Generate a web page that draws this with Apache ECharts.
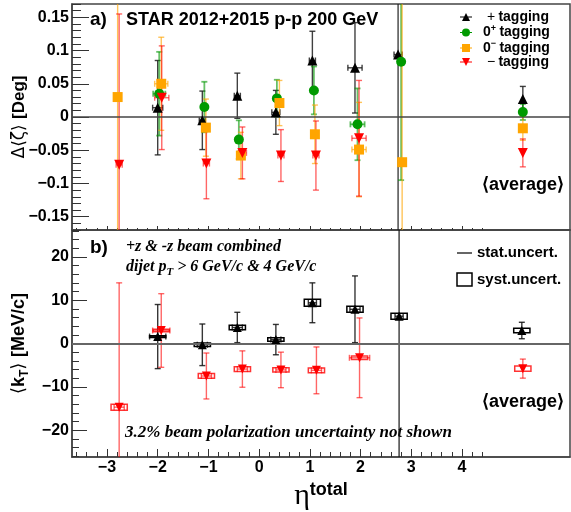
<!DOCTYPE html>
<html>
<head>
<meta charset="utf-8">
<script src="https://cdn.jsdelivr.net/npm/echarts@6.0.0/dist/echarts.min.js"></script>
<style>html,body{margin:0;padding:0;background:#fff;}</style>
</head>
<body>
<div id="main" style="width:571px;height:512px;"></div>
<script>
// ---- panel a) : Delta<zeta> [deg] ----
var plusEta  = [-2.0, -1.12, -0.43, 0.33, 1.05, 1.89, 2.74, 5.2];
var plusVal  = [0.014, -0.005, 0.032, 0.007, 0.085, 0.074, 0.094, 0.027];
var plusErr  = [0.071, 0.044, 0.034, 0.033, 0.044, 0.068, 1.0, 0.019];
var plusXErr = [0.1, 0.06, 0.06, 0.08, 0.06, 0.14, 0.08, 0];

var zpEta  = [-1.97, -1.08, -0.4, 0.35, 1.08, 1.94, 2.8, 5.2];
var zpVal  = [0.035, 0.015, -0.034, 0.028, 0.040, -0.011, 0.083, 0.0075];
var zpErr  = [0.063, 0.038, 0.029, 0.028, 0.036, 0.054, 0.178, 0.012];
var zpXErr = [0.12, 0.04, 0.04, 0.06, 0.04, 0.14, 0.04, 0];

var zmEta  = [-2.79, -1.93, -1.05, -0.36, 0.4, 1.1, 1.97, 2.82, 5.2];
var zmVal  = [0.03, 0.05, -0.016, -0.058, 0.021, -0.026, -0.049, -0.068, -0.017];
var zmErr  = [0.3, 0.07, 0.043, 0.035, 0.034, 0.044, 0.071, 0.5, 0.018];
var zmXErr = [0.05, 0.13, 0.05, 0.06, 0.06, 0.05, 0.14, 0.05, 0];

var minusEta  = [-2.76, -1.92, -1.04, -0.33, 0.43, 1.12, 1.97, 5.2];
var minusVal  = [-0.072, 0.029, -0.07, -0.054, -0.058, -0.058, -0.032, -0.054];
var minusErr  = [0.227, 0.078, 0.053, 0.039, 0.039, 0.052, 0.087, 0.021];
var minusXErr = [0.06, 0.14, 0.06, 0.08, 0.06, 0.06, 0.14, 0];

// ---- panel b) : <k_T> [MeV/c] ----
var kPlusEta  = [-2.0, -1.12, -0.43, 0.33, 1.05, 1.89, 2.76, 5.18];
var kPlusVal  = [1.6, -0.3, 3.7, 0.9, 9.4, 7.9, 6.3, 3.0];
var kPlusStat = [7.4, 4.8, 3.5, 3.5, 4.6, 7.7, 60, 1.9];
var kPlusSyst = [0.2, 0.4, 0.5, 0.4, 0.8, 0.7, 0.7, 0.5];
var kPlusXErr = [0.16, 0.1, 0.1, 0.1, 0.08, 0.1, 0.08, 0];

var kMinusEta  = [-2.76, -1.93, -1.04, -0.33, 0.43, 1.13, 1.98, 5.2];
var kMinusVal  = [-14.7, 3.0, -7.5, -5.9, -6.1, -6.2, -3.3, -5.8];
var kMinusStat = [28.7, 8.5, 5.3, 4.2, 4.1, 5.4, 9.2, 2.2];
var kMinusSyst = [0.7, 0.3, 0.55, 0.55, 0.5, 0.55, 0.4, 0.6];
var kMinusXErr = [0.1, 0.17, 0.1, 0.1, 0.1, 0.1, 0.2, 0];

// tick labels
var etaTicks = [-3, -2, -1, 0, 1, 2, 3, 4];
var zetaTicks = [-0.15, -0.1, -0.05, 0, 0.05, 0.1, 0.15];
var ktTicks = [-20, -10, 0, 10, 20];

var BOX_HW = 0.16;   // syst box half width in eta

function minorTicks(from, to, step, majors) {
    var res = [];
    for (var v = from; v <= to + step / 2; v += step) {
        var r = Math.round(v * 1000) / 1000;
        if (majors.indexOf(r) < 0) res.push(r);
    }
    return res;
}

function zip(a, b) {
    var res = [];
    for (var i = 0; i < a.length; i++) res.push([a[i], b[i]]);
    return res;
}

function errRender(color, lw) {
    return function (params, api) {
        var cs = params.coordSys;
        var x0 = cs.x, x1 = cs.x + cs.width, y0 = cs.y, y1 = cs.y + cs.height;
        var x = api.value(0), y = api.value(1), ex = api.value(2), ey = api.value(3);
        var c = api.coord([x, y]);
        var top = api.coord([x, y + ey])[1], bot = api.coord([x, y - ey])[1];
        var lft = api.coord([x - ex, y])[0], rgt = api.coord([x + ex, y])[0];
        var kids = [];
        var st = { stroke: color, lineWidth: lw };
        function seg(a, b, c2, d) {
            kids.push({ type: 'line', shape: { x1: a, y1: b, x2: c2, y2: d }, style: st });
        }
        var t = Math.max(top, y0), b = Math.min(bot, y1);
        if (c[0] >= x0 && c[0] <= x1 && b > t) {
            seg(c[0], t, c[0], b);
            if (top >= y0) seg(c[0] - 3, top, c[0] + 3, top);
            if (bot <= y1) seg(c[0] - 3, bot, c[0] + 3, bot);
        }
        if (ex > 0 && c[1] >= y0 && c[1] <= y1) {
            seg(lft, c[1], rgt, c[1]);
            seg(lft, c[1] - 3, lft, c[1] + 3);
            seg(rgt, c[1] - 3, rgt, c[1] + 3);
        }
        return { type: 'group', children: kids };
    };
}

function boxRender(color) {
    return function (params, api) {
        var x = api.value(0), y = api.value(1), h = api.value(2);
        var p1 = api.coord([x - BOX_HW, y + h]), p2 = api.coord([x + BOX_HW, y - h]);
        return { type: 'rect', shape: { x: p1[0], y: p1[1], width: p2[0] - p1[0], height: p2[1] - p1[1] },
                 style: { fill: 'none', stroke: color, lineWidth: 1.5 } };
    };
}

function errSeries(idx, eta, val, xerr, yerr, color, lw) {
    var data = [];
    for (var i = 0; i < eta.length; i++) data.push([eta[i], val[i], xerr[i], yerr[i]]);
    return { type: 'custom', xAxisIndex: idx, yAxisIndex: idx, data: data, silent: true, z: 2,
             renderItem: errRender(color, lw || 1.4) };
}

function boxSeries(idx, eta, val, syst, color) {
    var data = [];
    for (var i = 0; i < eta.length; i++) data.push([eta[i], val[i], syst[i]]);
    return { type: 'custom', xAxisIndex: idx, yAxisIndex: idx, data: data, silent: true, z: 3,
             renderItem: boxRender(color) };
}

function markSeries(name, idx, eta, val, symbol, rot, size, color) {
    return { type: 'scatter', name: name, xAxisIndex: idx, yAxisIndex: idx, data: zip(eta, val),
             symbol: symbol, symbolRotate: rot, symbolSize: size, itemStyle: { color: color, opacity: 1 }, z: 5 };
}

var zeroLine = { silent: true, symbol: 'none', label: { show: false },
                 lineStyle: { color: '#444', type: 'solid', width: 1.5 }, data: [{ yAxis: 0 }] };

var boldFont = 'Liberation Sans';
var minusFmt = function (v) { return String(v).replace('-', '\u2212'); };

var etaMinor = minorTicks(-3.6, 4.4, 0.2, etaTicks);
var zetaMinor = minorTicks(-0.17, 0.17, 0.01, zetaTicks);
var ktMinor = minorTicks(-26, 26, 2, ktTicks);

function xAx(grid, ticks, len, labels) {
    return {
        type: 'value', gridIndex: grid, min: -3.69, max: 6.13, position: 'bottom', offset: 0,
        splitLine: { show: false },
        axisLine: { show: labels !== null, onZero: false, lineStyle: { color: '#444', width: 1.5 } },
        axisTick: { show: true, inside: true, length: len, customValues: ticks, lineStyle: { color: '#333', width: 1 } },
        axisLabel: labels ? labels : { show: false }
    };
}

function yAx(grid, min, max, ticks, len, labels) {
    return {
        type: 'value', gridIndex: grid, min: min, max: max, position: 'left', offset: 0,
        splitLine: { show: false },
        axisLine: { show: labels !== null, onZero: false, lineStyle: { color: '#444', width: 1.5 } },
        axisTick: { show: true, inside: true, length: len, customValues: ticks, lineStyle: { color: '#333', width: 1 } },
        axisLabel: labels ? labels : { show: false }
    };
}

var lblStyle = { fontFamily: boldFont, fontWeight: 'bold', fontSize: 16, color: '#000', margin: 3, formatter: minusFmt };

var xAxes = [
    xAx(0, etaTicks, 4, { show: false }),
    xAx(0, etaMinor, 2, null),
    Object.assign(xAx(1, etaTicks, 8, Object.assign({ customValues: etaTicks }, lblStyle)), {
        name: '{e|\u03b7}{s|total}', nameLocation: 'middle', nameGap: 24, nameMoveOverlap: false,
        nameTextStyle: { rich: {
            e: { fontFamily: 'Liberation Serif', fontSize: 30, color: '#000', verticalAlign: 'bottom', lineHeight: 30 },
            s: { fontFamily: boldFont, fontWeight: 'bold', fontSize: 18, color: '#000', verticalAlign: 'top', lineHeight: 30 }
        } }
    }),
    xAx(1, etaMinor, 5, null)
];

var yAxes = [
    Object.assign(yAx(0, -0.17, 0.17, zetaTicks, 17, Object.assign({ customValues: zetaTicks }, lblStyle)), {
        name: '{n|\u0394\u27e8\u03b6\u27e9 }{b|[Deg]}', nameLocation: 'middle', nameRotate: 90, nameGap: 44,
        nameMoveOverlap: false,
        nameTextStyle: { rich: {
            n: { fontFamily: 'DejaVu Sans', fontSize: 17, color: '#000' },
            b: { fontFamily: boldFont, fontWeight: 'bold', fontSize: 17, color: '#000' }
        } }
    }),
    yAx(0, -0.17, 0.17, zetaMinor, 9, null),
    Object.assign(yAx(1, -26.2, 26.2, ktTicks, 15, Object.assign({ customValues: ktTicks }, lblStyle)), {
        name: '{n|\u27e8}{b|k}{s|T}{n|\u27e9 }{b|[MeV/c]}', nameLocation: 'middle', nameRotate: 90, nameGap: 41,
        nameMoveOverlap: false,
        nameTextStyle: { rich: {
            n: { fontFamily: 'DejaVu Sans', fontSize: 18, color: '#000', lineHeight: 24 },
            b: { fontFamily: boldFont, fontWeight: 'bold', fontSize: 18, color: '#000', lineHeight: 24 },
            s: { fontFamily: boldFont, fontWeight: 'bold', fontSize: 12, color: '#000', lineHeight: 24, verticalAlign: 'bottom' }
        } }
    }),
    yAx(1, -26.2, 26.2, ktMinor, 7, null)
];

var pathLine = 'M0,4H12V5H0Z ';
var legendText = {
    '+ tagging': '{o| +} {b|tagging}',
    '0+ tagging': '{b|0}{p|+} {b|tagging}',
    '0- tagging': '{b|0}{p|\u2212} {b|tagging}',
    '\u2212 tagging': '{o| \u2212} {b|tagging}'
};

var series = [
    errSeries(0, plusEta, plusVal, plusXErr, plusErr, 'rgba(30,30,30,0.85)'),
    errSeries(0, zpEta, zpVal, zpXErr, zpErr, 'rgba(0,150,0,0.6)', 1.8),
    errSeries(0, zmEta, zmVal, zmXErr, zmErr, 'rgba(255,165,0,0.65)'),
    errSeries(0, minusEta, minusVal, minusXErr, minusErr, 'rgba(255,0,0,0.6)'),
    Object.assign(markSeries('+ tagging', 0, plusEta, plusVal, 'triangle', 0, 10, '#000'), { markLine: zeroLine }),
    markSeries('0+ tagging', 0, zpEta, zpVal, 'circle', 0, 10, '#009a00'),
    markSeries('0- tagging', 0, zmEta, zmVal, 'rect', 0, 10, '#ffa500'),
    markSeries('\u2212 tagging', 0, minusEta, minusVal, 'triangle', 180, 10, '#ff0000'),

    errSeries(2, kPlusEta, kPlusVal, kPlusXErr, kPlusStat, 'rgba(20,20,20,0.85)'),
    errSeries(2, kMinusEta, kMinusVal, kMinusXErr, kMinusStat, 'rgba(255,0,0,0.6)'),
    boxSeries(2, kPlusEta, kPlusVal, kPlusSyst, '#000'),
    boxSeries(2, kMinusEta, kMinusVal, kMinusSyst, 'rgba(255,0,0,0.8)'),
    Object.assign(markSeries('kT +', 2, kPlusEta, kPlusVal, 'triangle', 0, 9, '#000'),
                  { markLine: Object.assign({}, zeroLine, { lineStyle: { color: '#666', type: 'solid', width: 2 } }) }),
    markSeries('kT -', 2, kMinusEta, kMinusVal, 'triangle', 180, 9, '#ff0000')
];

var txt = function (x, y, text, font, extra) {
    return { type: 'text', x: x, y: y, silent: true,
             style: Object.assign({ text: text, font: font, fill: '#000', textVerticalAlign: 'middle' }, extra || {}) };
};
var sans = function (s) { return 'bold ' + s + 'px "Liberation Sans"'; };
var serif = function (s) { return 'italic bold ' + s + 'px "Liberation Serif"'; };

var option = {
    backgroundColor: '#fff',
    animation: false,
    grid: [
        { left: 72, top: 4, right: 1, height: 226, show: true, borderColor: '#444', borderWidth: 1.5, outerBoundsMode: 'none' },
        { left: 72, top: 230, right: 1, height: 227, show: true, borderColor: '#444', borderWidth: 1.5, outerBoundsMode: 'none' }
    ],
    xAxis: xAxes,
    yAxis: yAxes,
    legend: {
        orient: 'vertical', left: 455, top: 5, itemWidth: 12, itemHeight: 9, itemGap: 0,
        selectedMode: false,
        data: [
            { name: '+ tagging', icon: 'path://' + pathLine + 'M6,0.5L10,8.5H2Z' },
            { name: '0+ tagging', icon: 'path://' + pathLine + 'M6,0.5A4,4 0 1,1 5.99,0.5Z' },
            { name: '0- tagging', icon: 'path://' + pathLine + 'M2,0.5H10V8.5H2Z' },
            { name: '\u2212 tagging', icon: 'path://' + pathLine + 'M2,0.5H10L6,8.5Z' }
        ],
        formatter: function (name) { return legendText[name]; },
        textStyle: {
            padding: [0, 0, 0, 6],
            rich: {
                b: { fontFamily: boldFont, fontWeight: 'bold', fontSize: 14, color: '#000', lineHeight: 17 },
                o: { fontFamily: boldFont, fontSize: 14, color: '#000', lineHeight: 17 },
                p: { fontFamily: boldFont, fontWeight: 'bold', fontSize: 9, color: '#000', lineHeight: 17, verticalAlign: 'top' }
            }
        }
    },
    graphic: [
        txt(90, 20, 'a)', sans(19)),
        txt(126, 20, 'STAR 2012+2015 p-p 200 GeV', sans(18)),
        txt(482, 185, '\u27e8average\u27e9', sans(18)),
        txt(90, 248, 'b)', sans(19)),
        txt(126, 247, '+z & -z beam combined', serif(16)),
        txt(126, 267, '{t|dijet p}{s|T}{t| > 6 GeV/c & 4 GeV/c}', serif(16), {
            rich: {
                t: { font: serif(16), fill: '#000', lineHeight: 22 },
                s: { font: serif(11), fill: '#000', lineHeight: 22, verticalAlign: 'bottom' }
            }
        }),
        txt(125, 433, '3.2% beam polarization uncertainty not shown', serif(17)),
        txt(482, 402, '\u27e8average\u27e9', sans(18)),
        { type: 'line', silent: true, shape: { x1: 457, y1: 253, x2: 472, y2: 253 }, style: { stroke: '#000', lineWidth: 1.2 } },
        txt(477, 253, 'stat.uncert.', sans(15)),
        { type: 'rect', silent: true, shape: { x: 457, y: 273, width: 15, height: 13 }, style: { fill: 'none', stroke: '#000', lineWidth: 1.5 } },
        txt(477, 280, 'syst.uncert.', sans(15))
    ],
    series: series
};

var myChart = echarts.init(document.getElementById('main'));
myChart.setOption(option);
</script>
</body>
</html>
